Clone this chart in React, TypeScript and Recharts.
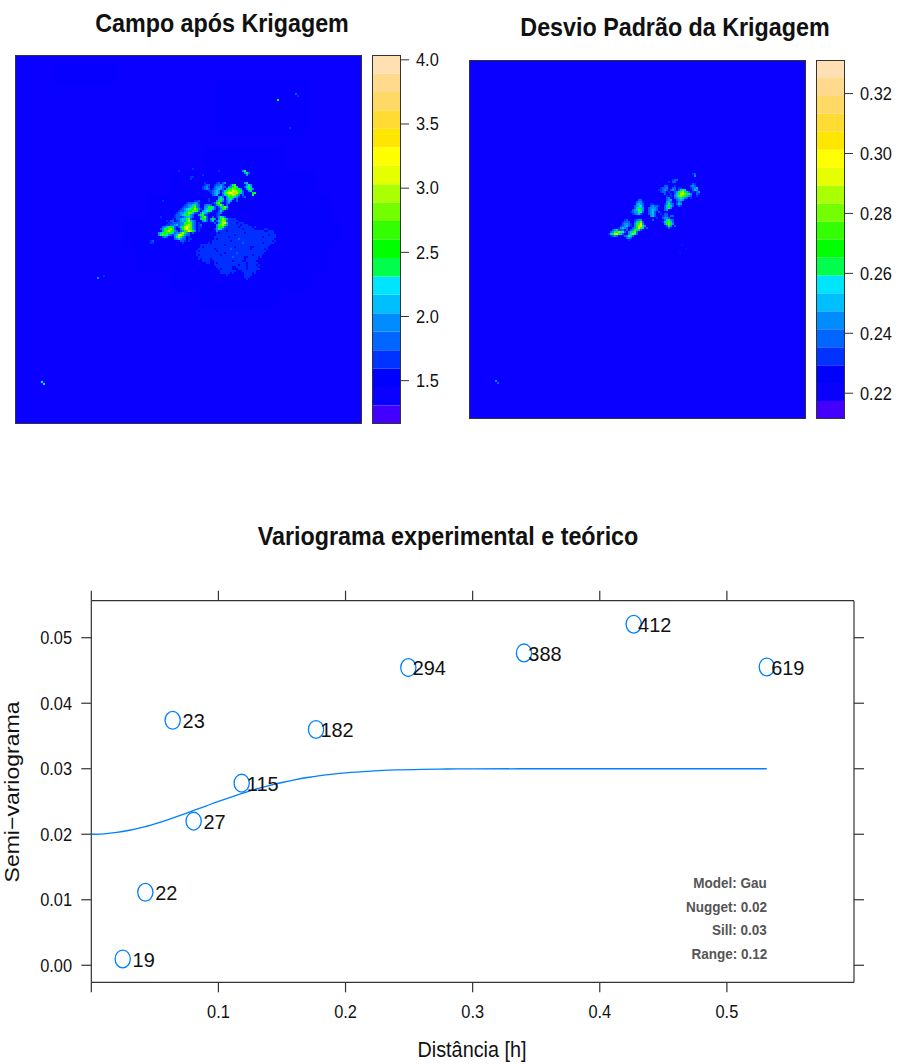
import React from 'react';
import { BarChart, Bar, ScatterChart, Scatter, XAxis, YAxis, ReferenceArea } from 'recharts';

const FONT = '"Liberation Sans", Arial, sans-serif';
const INK = '#333333';
const BLUE = '#0080ff';

// variogram points: distance, semivariance, number of pairs
const pairDistances = [0.0247, 0.0425, 0.064, 0.0805, 0.1183, 0.1768, 0.2494, 0.3404, 0.4267, 0.5314];
const pairGammas = [0.00096, 0.01114, 0.0374, 0.022, 0.0278, 0.036, 0.04544, 0.04768, 0.05206, 0.04554];
const pairCounts = [19, 22, 23, 27, 115, 182, 294, 388, 412, 619];

// fitted model curve
const curveDistances = [0, 0.01, 0.02, 0.03, 0.04, 0.05, 0.06, 0.07, 0.08, 0.09, 0.1, 0.11, 0.12, 0.13, 0.14, 0.15, 0.16, 0.17, 0.18, 0.19, 0.2, 0.22, 0.24, 0.26, 0.28, 0.3, 0.35, 0.45, 0.5314];
const curveGammas = [0.02, 0.02007, 0.02027, 0.02061, 0.02105, 0.0216, 0.02221, 0.02288, 0.02359, 0.0243, 0.02501, 0.02568, 0.02632, 0.02691, 0.02744, 0.0279, 0.02831, 0.02866, 0.02895, 0.02918, 0.02938, 0.02965, 0.02982, 0.02991, 0.02996, 0.02998, 0.03, 0.03, 0.03];

const distanceTicks = [0, 0.1, 0.2, 0.3, 0.4, 0.5];
const gammaTicks = [0, 0.01, 0.02, 0.03, 0.04, 0.05];
const modelNotes = ['Model: Gau', 'Nugget: 0.02', 'Sill: 0.03', 'Range: 0.12'];

// colour key, bottom band first
const bandColors = ['#4400ff', '#0a00ff', '#0000ff', '#0033ff', '#0066ff', '#008cff', '#00bfff', '#00e5ff', '#00ff4c', '#00ff00', '#33ff00', '#73ff00', '#aaff00', '#e5ff00', '#ffff00', '#ffe600', '#ffdb33', '#ffd966', '#ffd98c', '#ffe0b3'];
const krigeKeyTicks = [1.5, 2, 2.5, 3, 3.5, 4];
const sdKeyTicks = [0.22, 0.24, 0.26, 0.28, 0.3, 0.32];

const levelColors: Record<string, string> = {
  x: '#0014ff', a: '#0030ff', b: '#0060ff', c: '#0090ff', d: '#00bfff', e: '#00e5ff', f: '#00ff40',
  g: '#00ff00', h: '#40ff00', i: '#70ff00', j: '#aaff00', k: '#e5ff00', l: '#ffff00', m: '#ffb000',
};

// kriged field, one character per grid cell; '.' is the background level
const krigeRows = [
  '',
  '.....................a',
  '..............a...................a...........cf',
  '...............................................cfb',
  '..........................a.....................c',
  '....................aa',
  '....................a',
  '',
  '...........................a.....ab.bc.........cd',
  '...........................abb..abbcb...bfh.....cfc',
  '..........................abca..bccdbb.ccgid...bdfd',
  '..........................abcb.abcdcb.cfgihgfc..cfgc',
  '.............................aabcdc.bdgihkjigfb..cd',
  '..............................abcdc.cfikljmjgdb....gf',
  '...............................bcd..bdgihjigc.b....f',
  '..................................cdb.cfgfdca.ab',
  '.............................a....dfd.cdfc.b.',
  '......a...............aab....a...cgfc.bdc..b',
  '..................abbbcca......abgib..bc',
  '.................abccdfcb..bccb.acgic.b',
  '................abbcdgicb..ccfgdb.bdgid',
  '...............abcdefgjgca.cdgfdb.acgfb',
  '..............abbcdfgihfb.cdefda..bdb',
  '.............abccdgihdba.cfdca...abc',
  '............abbcdfgfcb..cgfba....ab',
  '.....a......abbabcddcb...cgib..b.acfdb',
  '...........a.bbcddgib....dgfb.cgc.cgjfcaaaa',
  '........a.bb.abcdcfjdcb...cdb.bd.bdgihbaaaaa',
  '.........aabbbbccfghhcb.a.......b.cfjkdaaaa.aaa',
  '........aabbcdbccgijhcb.ab.......cfhjgcaaaaaa.aaa',
  '......bcdfgdb.bdgjkjhcb.aa.......cggfbaaaaaa.aaaaaa.a',
  '.....bcfghjgb..cgjlihcb.a.......acfdbaaaaaaaaa.aaaaa.....aa',
  '......cghkhgcb.bcghkigc.a........caaaa.aaaaaaaaaaaaaaaaaa..aaa',
  '....cdfghgfdbccgjgcb.b...........a.aaaaaaaaaaaa.aaaaaaaaaaaaaa',
  '....cfhfecbacdjkhcbb.............aaaaaaaaa.aaaaaaaaaaaaaaaa.aaa',
  '......bcb...cfjfcb.a............aaaaaaa.aaaaaaaaaaaaaaaa.aaaaaa',
  '............bcdcbb.aa...........a.aaaaaaaaaabaaaaaaaaaaaaaaaaa',
  'ab.............bba.a...........aaaaaaaaa.aaaaaaaaaaaaaaaaaaaa.a',
  'aa..............a............a.aaaaaaaaaaaaaaabaaaaaaaaa.aaaaa',
  '.........................aaaaaaaaaaaa.aaaaaaaaaaaaaaaaaaaaaa',
  '.........................a.aaaaaaaaaaaaaaa.aaaaaaa..aaaaaaa',
  '........................aaaaaaaa.aaaaaaabaaaaaaaaa.aaaaaa.a',
  '.......................a.aaaaaaaa.aaaaaaaaaaaaaaaaaaaaaaaa',
  '.......................aaaaaaaaaaaaaa.aaaaabaaaaaaaaaaaaa',
  '.......................a.aaaaaaaaaa.aaaaaaaaaaaaaaa.aaaa',
  '........................aaaaaaaaaaaaaaaaabaaaaa..aaaaa.a',
  '........................a.aaaa.aaaaaaaaaaaaaaaa.aaaaaa',
  '..........................aaaa..aaaaaaaaa.aaaa..aaaaa',
  '............................aa..a.aaaaaaaaaaaaaa.aaaaa',
  '................................aaaaaaaaaaaa.aaa.aaaa.a',
  '.................................aaaaaaaa..aaaaa.aaaaa',
  '..................................a.aaaaa...aaaa.aaaaaa',
  '...................................aaaaaaaa...aaaaaaa',
  '...................................aaaaa.a.....aaaa.a',
  '......................................a........aaaa',
  '...............................................aaa',
  '................................................a',
];

// standard deviation field
const sdRows = [
  '',
  '',
  '',
  '',
  '............................................ab',
  '.............................................c',
  '',
  '..................................abb',
  '................................a.bb',
  '............................................ba',
  '..............................bb...a.......bcb',
  '............................abbc..bb.aa....abcd',
  '...........................aabcb.bcb.bdfd...bdc',
  '............................abb.a..bcfhjgdb.a.bc',
  '..............................b..a.bdgjkigfc..ba',
  '...............................a.a.cdhjhgdcb..a',
  '...............................bc..bcdfdcb.a',
  '.................bb............bcd..bcdc',
  '................bcca...........cdb..acb',
  '................cdcb...aa.....acfcb.bdc',
  '...............bcdeb...bcbba..bdgdb..ba',
  '...............bdgdc..bcccb...bdfc',
  '..............bcdhgc..bcdcb...bc',
  '.............abccfeb..bcdb.b',
  '..............abcdb...bcdb..a.bb',
  '.......................cdb...abb.bb',
  '..........................a..bccb',
  '..........ab...abcc.....b.....bdfcb',
  '.........abbb..bdgib.........adghdb',
  '.........bccba.cfhkc..........cgigc',
  '........abcdba.cgjkfc..........bfc.b',
  '.......acdcb..bcgkhd.b..........b',
  '....bcdbbb.b.bcfgdb..',
  '...bcfgiheb.cdgib..',
  '..adgjkgdb..cfieb.',
  '...abcb...bcfdb',
  '...........bcb.',
  '............a',
];

// lone cells away from the main cluster: column, row, level
const krigeSpecks: [number, number, string][] = [[13, 163, 'e'], [14, 164, 'e'], [140, 19, 'b'], [141, 20, 'a'], [131, 22, 'f'], [137, 36, 'a'], [41, 111, 'c'], [44, 110, 'a']];
const sdSpecks: [number, number, string][] = [[13, 160, 'c'], [14, 161, 'b'], [106, 92, 'x'], [108, 94, 'x'], [105, 96, 'x']];

// faint shaded patches of the field: first column, last column, first row, last row
const krigeHalos: [number, number, number, number][] = [
  [18, 50, 4, 14], [100, 146, 12, 40], [95, 135, 46, 58], [78, 150, 58, 70],
  [66, 158, 70, 82], [54, 162, 82, 96], [60, 156, 96, 108], [78, 148, 108, 118], [92, 132, 118, 126],
];

const toCells = (rows: string[], startCol: number, startRow: number, specks: [number, number, string][]) => {
  const cells: { col: number; row: number; level: string }[] = [];
  rows.forEach((text, r) => {
    text.split('').forEach((level, c) => {
      if (levelColors[level]) cells.push({ col: startCol + c + 0.5, row: startRow + r + 0.5, level });
    });
  });
  specks.forEach(([col, row, level]) => cells.push({ col: col + 0.5, row: row + 0.5, level }));
  return cells;
};

// text squeezed sideways, the reference was stretched when it was exported
const Squeezed = ({ x, y, size, anchor = 'middle', sx = 0.9, fill = '#111', weight = 'normal', children }: any) => (
  <text transform={`translate(${x},${y}) scale(${sx},1)`} textAnchor={anchor} dominantBaseline="central" fontFamily={FONT} fontSize={size} fontWeight={weight} fill={fill}>
    {children}
  </text>
);

const Frame = ({ left, top, width, height }: any) => (
  <div style={{ position: 'absolute', left, top, width, height, boxSizing: 'border-box', border: `1px solid ${INK}`, pointerEvents: 'none' }} />
);

const Title = ({ cx, cy, children }: any) => (
  <div style={{ position: 'absolute', left: cx - 300, top: cy - 20, width: 600, lineHeight: '40px', textAlign: 'center', fontFamily: FONT, fontWeight: 'bold', fontSize: 25.6, color: '#111', transform: 'scaleX(0.91)' }}>
    {children}
  </div>
);

const FieldPanel = ({ left, top, width, height, cols, rows, cells, halos = [] }: any) => {
  const cellW = (width / cols) * 1.02;
  const cellH = (height / rows) * 1.02;
  return (
    <div style={{ position: 'absolute', left, top }}>
      <ScatterChart width={width} height={height} margin={{ top: 0, right: 0, bottom: 0, left: 0 }}>
        <XAxis type="number" dataKey="col" domain={[0, cols]} hide />
        <YAxis type="number" dataKey="row" domain={[0, rows]} reversed hide />
        <ReferenceArea x1={0} x2={cols} y1={0} y2={rows} fill="#0a00ff" fillOpacity={1} stroke="none" />
        {halos.map(([c0, c1, r0, r1]: number[]) => (
          <ReferenceArea key={`${c0}-${r0}`} x1={c0} x2={c1} y1={r0} y2={r1} fill="#0600ff" fillOpacity={1} stroke="none" />
        ))}
        <Scatter
          data={cells}
          isAnimationActive={false}
          shape={(p: any) => <rect x={p.cx - cellW / 2} y={p.cy - cellH / 2} width={cellW} height={cellH} fill={levelColors[p.payload.level]} />}
        />
      </ScatterChart>
      <Frame left={0} top={0} width={width} height={height} />
    </div>
  );
};

const ColorKey = ({ left, top, height, low, high, ticks, digits }: any) => {
  const step = (high - low) / bandColors.length;
  const row: Record<string, number | string> = { name: 'key' };
  const pad = 12;
  bandColors.forEach((_, i) => {
    row[`band${i}`] = i === 0 ? low + step : step;
  });
  return (
    <div style={{ position: 'absolute', left, top: top - pad }}>
      <BarChart width={83} height={height + pad * 2} data={[row]} barCategoryGap={0} margin={{ top: pad, right: 0, bottom: pad, left: 0 }}>
        <XAxis dataKey="name" hide />
        <YAxis
          orientation="right"
          width={54}
          type="number"
          domain={[low, high]}
          allowDataOverflow
          ticks={ticks}
          interval={0}
          axisLine={false}
          tickLine={{ stroke: INK }}
          tickSize={8}
          tick={(p: any) => <Squeezed x={p.x + 5} y={p.y} size={18.2} anchor="start">{Number(p.payload.value).toFixed(digits)}</Squeezed>}
        />
        {bandColors.map((color, i) => (
          <Bar key={color + i} dataKey={`band${i}`} stackId="key" fill={color} isAnimationActive={false} />
        ))}
      </BarChart>
      <Frame left={0} top={pad} width={29} height={height} />
    </div>
  );
};

const blankTick = () => <g />;
const blankShape = () => <g />;

const VariogramChart = () => {
  const pairs = pairDistances.map((x, i) => ({ x, y: pairGammas[i], n: pairCounts[i] }));
  const curve = curveDistances.map((x, i) => ({ x, y: curveGammas[i] }));
  const axisStroke = { stroke: INK, strokeWidth: 1.2 };
  return (
    <div style={{ position: 'absolute', left: 0, top: 560 }}>
      <ScatterChart width={899} height={480} margin={{ top: 0, right: 0, bottom: 0, left: 0 }}>
        <XAxis
          xAxisId="bottom"
          type="number"
          dataKey="x"
          orientation="bottom"
          height={57.7}
          domain={[0, 0.6]}
          ticks={distanceTicks}
          interval={0}
          tickSize={10}
          axisLine={axisStroke}
          tickLine={axisStroke}
          tick={(p: any) => (p.payload.value === 0 ? <g /> : <Squeezed x={p.x} y={1011.5 - 560} size={18.2}>{p.payload.value.toFixed(1)}</Squeezed>)}
        />
        <XAxis xAxisId="top" type="number" dataKey="x" orientation="top" height={40.7} domain={[0, 0.6]} ticks={distanceTicks} interval={0} tickSize={10} axisLine={axisStroke} tickLine={axisStroke} tick={blankTick} />
        <YAxis
          yAxisId="left"
          type="number"
          dataKey="y"
          width={91.3}
          domain={[-0.0026, 0.05565]}
          ticks={gammaTicks}
          interval={0}
          tickSize={10}
          axisLine={axisStroke}
          tickLine={axisStroke}
          tick={(p: any) => <Squeezed x={72} y={p.y} size={18.2} anchor="end">{p.payload.value.toFixed(2)}</Squeezed>}
        />
        <YAxis yAxisId="right" type="number" dataKey="y" orientation="right" width={45} domain={[-0.0026, 0.05565]} ticks={gammaTicks} interval={0} tickSize={10} axisLine={axisStroke} tickLine={axisStroke} tick={blankTick} />
        {/* the top and right axes only draw their ticks when a series is bound to them */}
        <Scatter xAxisId="top" yAxisId="right" data={pairs} isAnimationActive={false} shape={blankShape} />
        <Scatter
          xAxisId="bottom"
          yAxisId="left"
          data={curve}
          isAnimationActive={false}
          line={{ stroke: BLUE, strokeWidth: 1.3 }}
          lineJointType="monotoneX"
          shape={blankShape}
        />
        <Scatter
          xAxisId="bottom"
          yAxisId="left"
          data={pairs}
          isAnimationActive={false}
          shape={(p: any) => (
            <g>
              <ellipse cx={p.cx} cy={p.cy} rx={7.6} ry={8.9} fill="none" stroke={BLUE} strokeWidth={1.3} />
              <Squeezed x={p.cx + 21} y={p.cy} size={21} sx={0.95}>{p.payload.n}</Squeezed>
            </g>
          )}
        />
      </ScatterChart>
    </div>
  );
};

export default function App() {
  return (
    <div style={{ position: 'absolute', left: 0, top: 0, width: 899, height: 1064, background: '#fff', overflow: 'hidden' }}>
      <Title cx={222} cy={23}>Campo após Krigagem</Title>
      <Title cx={675} cy={27}>Desvio Padrão da Krigagem</Title>

      <FieldPanel left={15} top={55} width={347} height={369} cols={173.5} rows={184.5} cells={toCells(krigeRows, 67.5, 55.5, krigeSpecks)} halos={krigeHalos} />
      <ColorKey left={372} top={55} height={369} low={1.1625} high={4.0375} ticks={krigeKeyTicks} digits={1} />

      <FieldPanel left={469} top={60} width={337} height={359} cols={168.5} rows={179.5} cells={toCells(sdRows, 67.5, 52.5, sdSpecks)} />
      <ColorKey left={816} top={60} height={359} low={0.2114} high={0.3312} ticks={sdKeyTicks} digits={2} />

      <Title cx={448} cy={536}>Variograma experimental e teórico</Title>

      <VariogramChart />

      {modelNotes.map((note, i) => (
        <div key={note} style={{ position: 'absolute', right: 899 - 767, top: [883, 907, 930, 954][i] - 10, lineHeight: '20px', fontFamily: FONT, fontWeight: 'bold', fontSize: 15, color: '#555', transform: 'scaleX(0.9)', transformOrigin: 'right center', whiteSpace: 'nowrap' }}>
          {note}
        </div>
      ))}

      <div style={{ position: 'absolute', left: 472 - 150, top: 1050 - 15, width: 300, lineHeight: '30px', textAlign: 'center', fontFamily: FONT, fontSize: 22, color: '#111', transform: 'scaleX(0.9)' }}>
        Distância [h]
      </div>
      <div style={{ position: 'absolute', left: 12 - 150, top: 792 - 15, width: 300, lineHeight: '30px', textAlign: 'center', fontFamily: FONT, fontSize: 23, color: '#111', transform: 'rotate(-90deg) scaleY(0.88)' }}>
        Semi−variograma
      </div>
    </div>
  );
}
